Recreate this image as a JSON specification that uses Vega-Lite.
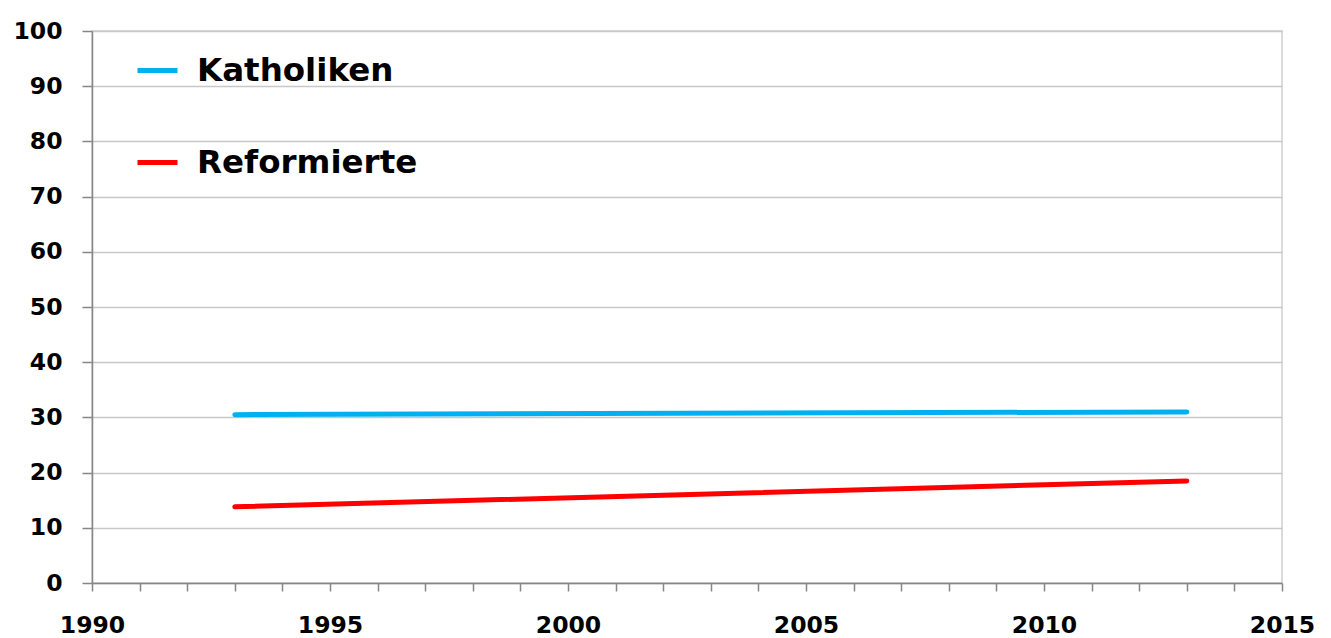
{
  "$schema": "https://vega.github.io/schema/vega-lite/v6.json",
  "width": 1190,
  "height": 552,
  "autosize": {"type": "none"},
  "padding": {"left": 92, "top": 31, "right": 49, "bottom": 55},
  "background": "white",
  "data": {
    "values": [
      {"year": 1993, "value": 30.5, "series": "Katholiken"},
      {"year": 2013, "value": 31.0, "series": "Katholiken"},
      {"year": 1993, "value": 13.8, "series": "Reformierte"},
      {"year": 2013, "value": 18.5, "series": "Reformierte"}
    ]
  },
  "mark": {"type": "line", "strokeWidth": 5, "strokeCap": "round"},
  "encoding": {
    "x": {
      "field": "year",
      "type": "quantitative",
      "scale": {"domain": [1990, 2015], "nice": false, "zero": false},
      "axis": {
        "title": null,
        "values": [1990,1991,1992,1993,1994,1995,1996,1997,1998,1999,2000,2001,2002,2003,2004,2005,2006,2007,2008,2009,2010,2011,2012,2013,2014,2015],
        "format": "d",
        "labelExpr": "datum.value % 5 === 0 ? datum.label : ''",
        "grid": false,
        "tickSize": 8,
        "labelPadding": 22,
        "labelBaseline": "top",
        "labelFlush": false
      }
    },
    "y": {
      "field": "value",
      "type": "quantitative",
      "scale": {"domain": [0, 100], "nice": false},
      "axis": {
        "title": null,
        "values": [0,10,20,30,40,50,60,70,80,90,100],
        "tickSize": 10,
        "labelPadding": 20,
        "grid": true
      }
    },
    "color": {
      "field": "series",
      "type": "nominal",
      "scale": {"domain": ["Katholiken", "Reformierte"], "range": ["#00B0F0", "#FF0000"]},
      "legend": {
        "title": null,
        "orient": "none",
        "legendX": 43,
        "legendY": 17,
        "symbolType": "stroke",
        "symbolSize": 1600,
        "symbolStrokeWidth": 5,
        "labelFontSize": 32.5,
        "labelFontWeight": "bold",
        "labelColor": "#000000",
        "labelFont": "DejaVu Sans",
        "labelOffset": 17,
        "labelLimit": 400,
        "rowPadding": 53
      }
    }
  },
  "config": {
    "view": {"stroke": "#d0d0d0", "strokeWidth": 1.5},
    "axis": {
      "labelFont": "DejaVu Sans",
      "labelFontSize": 23.5,
      "labelFontWeight": "bold",
      "labelColor": "#000000",
      "domainColor": "#868686",
      "domainWidth": 1.5,
      "tickColor": "#868686",
      "tickWidth": 1.5,
      "gridColor": "#c8c8c8",
      "gridWidth": 1.5
    }
  }
}
